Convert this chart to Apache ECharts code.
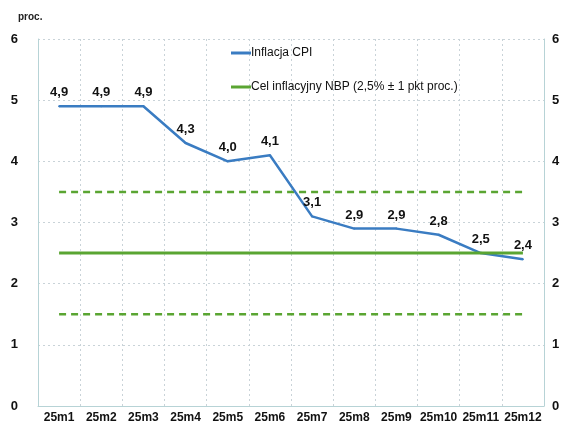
<!DOCTYPE html>
<html>
<head>
<meta charset="utf-8">
<script src="https://cdn.jsdelivr.net/npm/echarts@6/dist/echarts.min.js"></script>
<style>
  html, body { margin: 0; padding: 0; background: #fff; }
  #main { width: 565px; height: 428px; }
</style>
</head>
<body>
<div id="main"></div>
<script>
var months = ['25m1', '25m2', '25m3', '25m4', '25m5', '25m6', '25m7', '25m8', '25m9', '25m10', '25m11', '25m12'];
var cpi = [4.9, 4.9, 4.9, 4.3, 4.0, 4.1, 3.1, 2.9, 2.9, 2.8, 2.5, 2.4];
var target = [2.5, 2.5, 2.5, 2.5, 2.5, 2.5, 2.5, 2.5, 2.5, 2.5, 2.5, 2.5];
var upperBand = [3.5, 3.5, 3.5, 3.5, 3.5, 3.5, 3.5, 3.5, 3.5, 3.5, 3.5, 3.5];
var lowerBand = [1.5, 1.5, 1.5, 1.5, 1.5, 1.5, 1.5, 1.5, 1.5, 1.5, 1.5, 1.5];

var myChart = echarts.init(document.getElementById('main'));

var fontFam = 'Liberation Sans, Arial, sans-serif';
var gridLine = { show: true, lineStyle: { color: '#c9d3d8', type: [2, 3], width: 1 } };
var axisLine = { show: true, lineStyle: { color: '#b7d3d6', width: 1 } };

var option = {
  animation: false,
  textStyle: { fontFamily: fontFam },
  graphic: [{
    type: 'text', left: 18, top: 12,
    style: { text: 'proc.', font: 'bold 10px ' + fontFam, fill: '#222' }
  }],
  legend: {
    orient: 'vertical',
    left: 226,
    top: 42,
    itemGap: 22,
    itemWidth: 20,
    itemHeight: 3,
    icon: 'rect',
    textStyle: { fontSize: 12, color: '#111', padding: [0, 0, 0, -5] },
    data: ['Inflacja CPI', 'Cel inflacyjny NBP (2,5% ± 1 pkt proc.)']
  },
  grid: { left: 38, right: 21, top: 39, bottom: 22 },
  xAxis: {
    type: 'category',
    data: months,
    boundaryGap: true,
    axisLine: axisLine,
    axisTick: { show: false },
    splitLine: gridLine,
    axisLabel: { fontSize: 12, fontWeight: 'bold', color: '#111', margin: 6, interval: 0 }
  },
  yAxis: [{
    type: 'value', min: 0, max: 6, interval: 1,
    axisLine: axisLine,
    axisTick: { show: false },
    splitLine: gridLine,
    axisLabel: { fontSize: 13, fontWeight: 'bold', color: '#111', margin: 20 }
  }, {
    type: 'value', min: 0, max: 6, interval: 1, position: 'right',
    axisLine: axisLine,
    axisTick: { show: false },
    splitLine: { show: false },
    axisLabel: { fontSize: 13, fontWeight: 'bold', color: '#111', margin: 8 }
  }],
  series: [{
    name: 'Cel inflacyjny NBP (2,5% ± 1 pkt proc.)',
    type: 'line',
    data: upperBand,
    symbol: 'none',
    color: '#5aa532',
    lineStyle: { color: '#5aa532', width: 2.5, type: [7, 5] },
    z: 2
  }, {
    name: 'Cel inflacyjny NBP (2,5% ± 1 pkt proc.)',
    type: 'line',
    data: lowerBand,
    symbol: 'none',
    color: '#5aa532',
    lineStyle: { color: '#5aa532', width: 2.5, type: [7, 5] },
    z: 2
  }, {
    name: 'Inflacja CPI',
    type: 'line',
    data: cpi,
    symbol: 'circle',
    symbolSize: 2,
    showSymbol: true,
    color: '#3a7cc2',
    itemStyle: { color: '#3a7cc2' },
    lineStyle: { color: '#3a7cc2', width: 2.5 },
    label: {
      show: true,
      position: 'top',
      distance: 6,
      fontSize: 13,
      fontWeight: 'bold',
      color: '#111',
      formatter: function (p) { return p.value.toFixed(1).replace('.', ','); }
    },
    labelLayout: { hideOverlap: false },
    z: 3
  }, {
    name: 'Cel inflacyjny NBP (2,5% ± 1 pkt proc.)',
    type: 'line',
    data: target,
    symbol: 'none',
    color: '#5aa532',
    lineStyle: { color: '#5aa532', width: 3 },
    z: 4
  }]
};

myChart.setOption(option);
</script>
</body>
</html>
